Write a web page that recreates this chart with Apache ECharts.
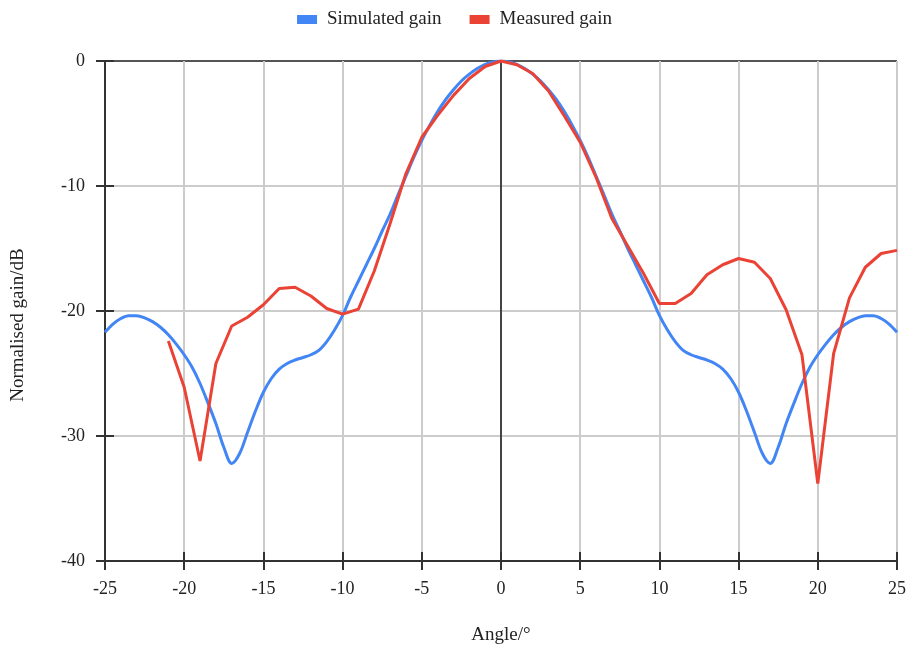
<!DOCTYPE html>
<html>
<head>
<meta charset="utf-8">
<script src="https://cdn.jsdelivr.net/npm/echarts@6/dist/echarts.min.js"></script>
<style>
  html, body { margin: 0; padding: 0; background: #fff; }
  #chart { width: 909px; height: 650px; }
</style>
</head>
<body>
<div id="chart"></div>
<script>
// Simulated pattern, sampled every 0.5 degrees
var simAngles = [-25,-24.5,-24,-23.5,-23,-22.5,-22,-21.5,-21,-20.5,-20,-19.5,-19,-18.5,-18,-17.5,-17,-16.5,-16,-15.5,
                 -15,-14.5,-14,-13.5,-13,-12.5,-12,-11.5,-11,-10.5,-10,-9.5,-9,-8.5,-8,-7.5,-7,-6.5,-6,-5.5,
                 -5,-4.5,-4,-3.5,-3,-2.5,-2,-1.5,-1,-0.5,0,
                 0.5,1,1.5,2,2.5,3,3.5,4,4.5,5,5.5,6,6.5,7,7.5,8,8.5,9,9.5,10,
                 10.5,11,11.5,12,12.5,13,13.5,14,14.5,15,15.5,16,16.5,17,17.5,18,18.5,19,19.5,20,
                 20.5,21,21.5,22,22.5,23,23.5,24,24.5,25];
// Simulated normalised gain (dB)
var simGain = [-21.7,-21.05,-20.6,-20.38,-20.38,-20.55,-20.85,-21.3,-21.9,-22.65,-23.5,-24.5,-25.8,-27.35,-29.0,-30.9,-32.2,-31.4,-29.7,-28.0,
               -26.5,-25.4,-24.65,-24.2,-23.92,-23.72,-23.5,-23.15,-22.45,-21.5,-20.35,-18.9,-17.6,-16.3,-15.0,-13.6,-12.25,-10.7,-9.2,-7.7,
               -6.35,-5.15,-4.05,-3.1,-2.3,-1.6,-1.05,-0.6,-0.27,-0.07,0,
               -0.07,-0.27,-0.6,-1.05,-1.6,-2.3,-3.1,-4.05,-5.15,-6.35,-7.7,-9.2,-10.7,-12.25,-13.6,-15.0,-16.3,-17.6,-18.9,-20.35,
               -21.5,-22.45,-23.15,-23.5,-23.72,-23.92,-24.2,-24.65,-25.4,-26.5,-28.0,-29.7,-31.4,-32.2,-30.9,-29.0,-27.35,-25.8,-24.5,-23.5,
               -22.65,-21.9,-21.3,-20.85,-20.55,-20.38,-20.38,-20.6,-21.05,-21.7];

// Measured pattern, one sample per degree
var measAngles = [-21,-20,-19,-18,-17,-16,-15,-14,-13,-12,-11,-10,-9,-8,-7,-6,-5,-4,-3,-2,-1,0,
                  1,2,3,4,5,6,7,8,9,10,11,12,13,14,15,16,17,18,19,20,21,22,23,24,25];
// Measured normalised gain (dB)
var measGain = [-22.4,-26.1,-32.0,-24.2,-21.2,-20.5,-19.5,-18.2,-18.1,-18.8,-19.8,-20.25,-19.85,-16.8,-13.0,-9.0,-6.1,-4.35,-2.75,-1.4,-0.44,0,
                -0.3,-1.0,-2.4,-4.4,-6.5,-9.3,-12.6,-14.8,-17.0,-19.4,-19.4,-18.6,-17.1,-16.3,-15.8,-16.1,-17.4,-19.9,-23.5,-33.8,-23.4,-18.95,-16.5,-15.4,-15.15];

var xTicks = { min: -25, max: 25, step: 5 };
var yTicks = { min: -40, max: 0, step: 10 };

function pairs(xs, ys) {
  return xs.map(function (x, i) { return [x, ys[i]]; });
}

var FONT = '"Liberation Serif", "Times New Roman", serif';
var GRID = '#cccccc';
var DARK = '#333333';
var TEXT = '#222222';

// split line colours: the zero lines are drawn darker
var xSplitColors = [];
for (var v = xTicks.min; v <= xTicks.max; v += xTicks.step) xSplitColors.push(v === 0 ? '#444444' : GRID);
var ySplitColors = [];
for (var w = yTicks.min; w <= yTicks.max; w += yTicks.step) ySplitColors.push(w === 0 ? '#555555' : GRID);

var chart = echarts.init(document.getElementById('chart'), null, { renderer: 'canvas' });

var xBase = { type: 'value', min: xTicks.min, max: xTicks.max, interval: xTicks.step, position: 'bottom' };
var yBase = { type: 'value', min: yTicks.min, max: yTicks.max, interval: yTicks.step, position: 'left' };

chart.setOption({
  animation: false,
  backgroundColor: '#ffffff',
  textStyle: { fontFamily: FONT },
  legend: {
    top: 5,
    left: 'center',
    itemWidth: 20,
    itemHeight: 9,
    itemGap: 28,
    icon: 'rect',
    textStyle: { fontFamily: FONT, fontSize: 19, color: TEXT, padding: [0, 0, 0, 5] },
    data: ['Simulated gain', 'Measured gain']
  },
  grid: { left: 105, right: 12, top: 61, bottom: 88, containLabel: false },
  xAxis: [
    Object.assign({}, xBase, {
      name: 'Angle/°',
      nameLocation: 'middle',
      nameGap: 65,
      nameTextStyle: { fontFamily: FONT, fontSize: 19, color: TEXT },
      axisLine: { onZero: false, lineStyle: { color: DARK, width: 2 } },
      axisTick: { show: true, inside: false, length: 9, lineStyle: { color: DARK, width: 2 } },
      axisLabel: { fontFamily: FONT, fontSize: 18, color: TEXT, margin: 19 },
      splitLine: { show: true, lineStyle: { color: xSplitColors, width: 2 } }
    }),
    Object.assign({}, xBase, {
      axisLine: { show: false, onZero: false },
      axisTick: { show: true, inside: true, length: 9, lineStyle: { color: DARK, width: 2 } },
      axisLabel: { show: false },
      splitLine: { show: false }
    })
  ],
  yAxis: [
    Object.assign({}, yBase, {
      name: 'Normalised gain/dB',
      nameLocation: 'middle',
      nameGap: 77,
      nameTextStyle: { fontFamily: FONT, fontSize: 19, color: TEXT, padding: [0, 28, 0, 0] },
      axisLine: { show: true, onZero: false, lineStyle: { color: DARK, width: 2 } },
      axisTick: { show: true, inside: false, length: 9, lineStyle: { color: DARK, width: 2 } },
      axisLabel: { fontFamily: FONT, fontSize: 18, color: TEXT, margin: 20 },
      splitLine: { show: true, lineStyle: { color: ySplitColors, width: 2 } }
    }),
    Object.assign({}, yBase, {
      axisLine: { show: false, onZero: false },
      axisTick: { show: true, inside: true, length: 9, lineStyle: { color: DARK, width: 2 } },
      axisLabel: { show: false },
      splitLine: { show: false }
    })
  ],
  series: [
    {
      name: 'Simulated gain',
      type: 'line',
      xAxisIndex: 0,
      yAxisIndex: 0,
      data: pairs(simAngles, simGain),
      smooth: 0.35,
      showSymbol: false,
      symbol: 'none',
      itemStyle: { color: '#4285F4' },
      lineStyle: { color: '#4285F4', width: 3 }
    },
    {
      name: 'Measured gain',
      type: 'line',
      xAxisIndex: 0,
      yAxisIndex: 0,
      data: pairs(measAngles, measGain),
      smooth: false,
      showSymbol: false,
      symbol: 'none',
      itemStyle: { color: '#EA4335' },
      lineStyle: { color: '#EA4335', width: 3 }
    }
  ]
});
</script>
</body>
</html>
